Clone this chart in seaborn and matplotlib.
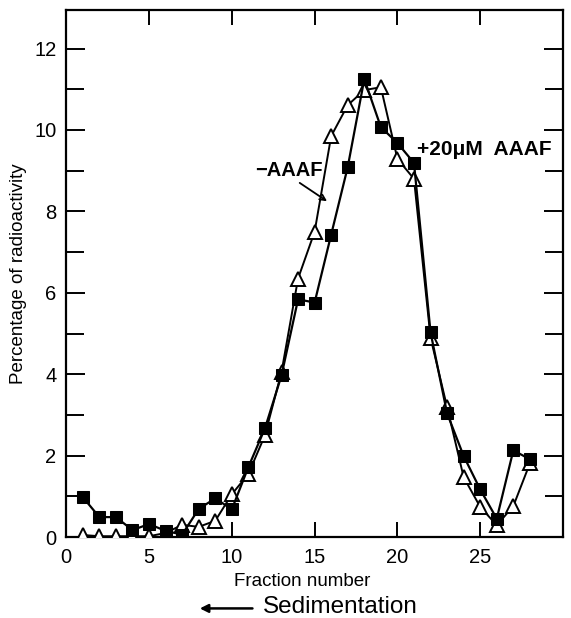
import matplotlib
matplotlib.use("Agg")
import matplotlib.pyplot as plt
import seaborn as sns
import pandas as pd

fractions = list(range(1, 29))
plus_aaaf = [0.98, 0.49, 0.49, 0.17, 0.32, 0.15, 0.06, 0.69, 0.95, 0.68, 1.72, 2.67, 3.97,
             5.84, 5.76, 7.43, 9.09, 11.25, 10.07, 9.68, 9.19, 5.03, 3.04, 1.99, 1.17, 0.45,
             2.13, 1.91]
minus_aaaf = [0.05, 0.02, 0.02, 0.02, 0.02, 0.1, 0.3, 0.25, 0.4, 1.05, 1.55, 2.5, 4.05,
              6.35, 7.5, 9.85, 10.61, 10.98, 11.05, 9.29, 8.8, 4.9, 3.19, 1.47, 0.74, 0.29,
              0.76, 1.81]
xticks = [0, 5, 10, 15, 20, 25]
yticks = [0, 2, 4, 6, 8, 10, 12]

sns.set_style("ticks")
plt.rcParams['font.family'] = ['Liberation Sans', 'DejaVu Sans']
for key in ["text.color", "axes.labelcolor", "xtick.color", "ytick.color",
            "axes.edgecolor"]:
    plt.rcParams[key] = "black"

fig = plt.figure(figsize=(5.71, 6.18), dpi=100)
ax = fig.add_axes([0.116, 0.131, 0.870, 0.853])

df = pd.DataFrame({"f": fractions, "plus": plus_aaaf, "minus": minus_aaaf})
sns.lineplot(data=df, x="f", y="minus", ax=ax, color="black", lw=1.4,
             marker="^", markersize=10, markerfacecolor="white",
             markeredgecolor="black", markeredgewidth=1.4, zorder=3)
sns.lineplot(data=df, x="f", y="plus", ax=ax, color="black", lw=1.6,
             marker="s", markersize=9, markerfacecolor="black",
             markeredgecolor="black", zorder=4)

ax.set_xlim(0, 30)
ax.set_ylim(0, 12.95)
ax.set_xticks(xticks)
ax.set_yticks(yticks)
ax.set_yticks(range(0, 13), minor=True)
ax.tick_params(axis="both", which="both", direction="in", labelsize=14.5,
               width=1.4, top=True, right=True, colors="black")
ax.tick_params(axis="y", which="major", length=14, pad=7)
ax.tick_params(axis="y", which="minor", length=13)
ax.tick_params(axis="x", which="major", length=11, pad=8)
for s in ax.spines.values():
    s.set_linewidth(1.6)
    s.set_color("black")
ax.set_xlabel("Fraction number", fontsize=13.5, va="top", color="black")
ax.set_ylabel("Percentage of radioactivity", fontsize=13.5, va="center", color="black")
ax.xaxis.set_label_coords(0.475, -0.068)
ax.yaxis.set_label_coords(-0.097, 0.5)

ax.text(11.4, 9.0, "\u2212AAAF", fontsize=14.5, fontweight="bold",
        ha="left", va="center", color="black")
ax.annotate("", xy=(15.75, 8.25), xytext=(14.1, 8.7),
            arrowprops=dict(arrowstyle="->", color="black", lw=1.3,
                            shrinkA=0, shrinkB=0))
ax.text(21.2, 9.53, "+20\u03bcM  AAAF", fontsize=15, fontweight="bold",
        ha="left", va="center", color="black")

fig.text(0.461, 0.018, "Sedimentation", fontsize=17.5, ha="left", va="center",
         color="black")
fig.patches.append(matplotlib.patches.FancyArrowPatch(
    (0.447, 0.0155), (0.345, 0.0155), transform=fig.transFigure,
    arrowstyle="-|>", mutation_scale=12, color="black", lw=1.8))

fig.savefig("out.png", dpi=100)
